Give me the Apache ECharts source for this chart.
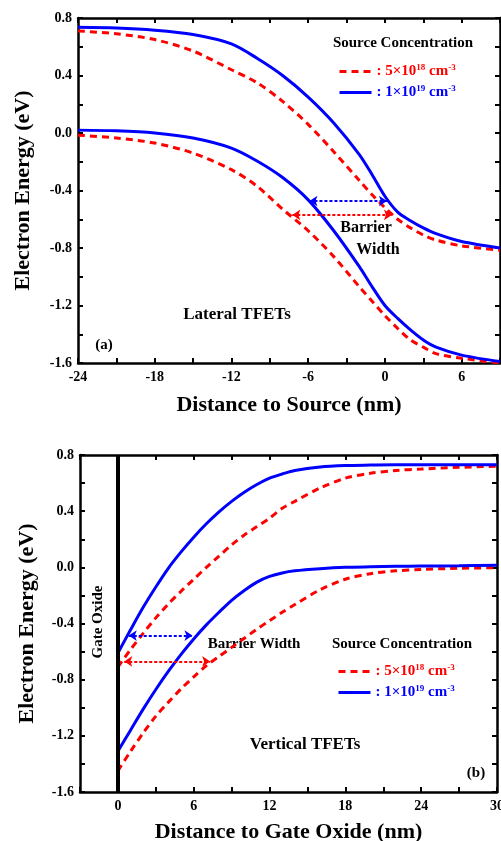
<!DOCTYPE html>
<html>
<head>
<meta charset="utf-8">
<script src="https://cdn.jsdelivr.net/npm/echarts@6/dist/echarts.min.js"></script>
<style>
html, body { margin: 0; padding: 0; background: #fff; }
#chart { width: 501px; height: 841px; }
</style>
</head>
<body>
<div id="chart"></div>
<script>
// (a) lateral TFETs, distance to source (nm)
const latX = [-24, -21, -18, -15, -12, -10, -8, -6, -4, -2, -1, 0, 1, 2, 3, 4, 6, 9];
const latCb18 = [0.71, 0.69, 0.65, 0.57, 0.44, 0.35, 0.22, 0.06, -0.13, -0.33, -0.43, -0.52, -0.60, -0.66, -0.71, -0.745, -0.785, -0.815];
const latVb18 = [-0.015, -0.035, -0.07, -0.14, -0.255, -0.37, -0.53, -0.68, -0.86, -1.07, -1.17, -1.27, -1.36, -1.44, -1.49, -1.535, -1.567, -1.60];
const latCb19 = [0.735, 0.73, 0.715, 0.685, 0.62, 0.52, 0.40, 0.25, 0.07, -0.15, -0.29, -0.44, -0.55, -0.61, -0.66, -0.70, -0.755, -0.80];
const latVb19 = [0.02, 0.015, 0.0, -0.035, -0.105, -0.195, -0.31, -0.465, -0.68, -0.93, -1.07, -1.20, -1.29, -1.37, -1.44, -1.49, -1.545, -1.59];

// (b) vertical TFETs, distance to gate oxide (nm)
const verX = [0, 1, 2, 3, 4, 5, 6, 7, 8, 9, 10, 11, 12, 13, 14, 16, 18, 20, 22, 24, 27, 30];
const verCb18 = [-0.71, -0.585, -0.47, -0.36, -0.26, -0.17, -0.085, 0.0, 0.08, 0.16, 0.23, 0.29, 0.35, 0.42, 0.47, 0.565, 0.635, 0.67, 0.69, 0.70, 0.712, 0.72];
const verVb18 = [-1.45, -1.31, -1.18, -1.06, -0.96, -0.865, -0.78, -0.70, -0.635, -0.57, -0.505, -0.44, -0.38, -0.32, -0.265, -0.16, -0.085, -0.045, -0.025, -0.015, -0.007, -0.002];
const verCb19 = [-0.61, -0.445, -0.285, -0.14, -0.005, 0.11, 0.215, 0.31, 0.395, 0.47, 0.535, 0.59, 0.635, 0.665, 0.69, 0.715, 0.725, 0.728, 0.73, 0.73, 0.73, 0.73];
const verVb19 = [-1.31, -1.16, -1.01, -0.87, -0.74, -0.62, -0.51, -0.41, -0.32, -0.235, -0.165, -0.105, -0.065, -0.04, -0.025, -0.01, 0.0, 0.004, 0.007, 0.009, 0.011, 0.014];

// barrier width arrows: [y, xStart, xEnd]
const latArrow19 = [-0.473, -5.9, 0.16];
const latArrow18 = [-0.57, -7.24, 0.55];
const verArrow19 = [-0.486, 0.86, 5.9];
const verArrow18 = [-0.67, 0.5, 7.3];

// ticks every 0.2 / 3 nm, labels on every second one
const yTicks = { min: -1.6, max: 0.8, interval: 0.2 };
const latTicks = { min: -24, max: 9, interval: 3 };
const verTicks = { min: -3, max: 30, interval: 3 };

const FONT = '"Liberation Serif", "Times New Roman", serif';
const RED = '#ff0000';
const BLUE = '#0000ff';
const N18 = '5e18';
const N19 = '1e19';

const pairs = (xs, ys) => xs.map((x, i) => [x, ys[i]]);

function xAxisOf(grid, ticks, pos, name, gap) {
    return {
        type: 'value', gridIndex: grid, position: pos,
        min: ticks.min, max: ticks.max, interval: ticks.interval,
        name: name, nameLocation: 'middle', nameGap: gap,
        nameTextStyle: { fontFamily: FONT, fontWeight: 'bold', fontSize: 22, color: '#000' },
        axisLine: { show: true, onZero: false, lineStyle: { color: '#000', width: 2.5 } },
        axisTick: { show: true, inside: true, length: 5, lineStyle: { color: '#000', width: 2 } },
        splitLine: { show: false },
        axisLabel: {
            show: pos === 'bottom', margin: 7, showMinLabel: true, showMaxLabel: true,
            fontFamily: FONT, fontWeight: 'bold', fontSize: 14, color: '#000',
            formatter: v => (v % 6 === 0 ? String(v) : '')
        }
    };
}

function yAxisOf(grid, pos, name, gap) {
    return {
        type: 'value', gridIndex: grid, position: pos,
        min: yTicks.min, max: yTicks.max, interval: yTicks.interval,
        name: name, nameLocation: 'middle', nameGap: gap,
        nameTextStyle: { fontFamily: FONT, fontWeight: 'bold', fontSize: 22, color: '#000' },
        axisLine: { show: true, onZero: false, lineStyle: { color: '#000', width: 2.5 } },
        axisTick: { show: true, inside: true, length: 5, lineStyle: { color: '#000', width: 2 } },
        splitLine: { show: false },
        axisLabel: {
            show: pos === 'left', margin: 6, showMinLabel: true, showMaxLabel: true,
            fontFamily: FONT, fontWeight: 'bold', fontSize: 14, color: '#000',
            formatter: v => (Math.round(v * 10) % 4 === 0 ? v.toFixed(1) : '')
        }
    };
}

function arrowLine(a, color) {
    return [
        { coord: [a[1], a[0]], lineStyle: { color: color, width: 2, type: [3, 2] } },
        { coord: [a[2], a[0]] }
    ];
}

function curve(name, xi, yi, data, color, dashed, extra) {
    return Object.assign({
        name: name, type: 'line', xAxisIndex: xi, yAxisIndex: yi,
        data: data, symbol: 'none', smooth: 0.3, silent: true,
        lineStyle: { color: color, width: 3, type: dashed ? [7, 5] : 'solid' },
        itemStyle: { color: color }
    }, extra || {});
}

const rich = {
    r: { color: RED, fontFamily: FONT, fontWeight: 'bold', fontSize: 15, lineHeight: 17 },
    rs: { color: RED, fontFamily: FONT, fontWeight: 'bold', fontSize: 9, verticalAlign: 'top' },
    b: { color: BLUE, fontFamily: FONT, fontWeight: 'bold', fontSize: 15, lineHeight: 17 },
    bs: { color: BLUE, fontFamily: FONT, fontWeight: 'bold', fontSize: 9, verticalAlign: 'top' }
};
const legendFmt = n => n === N18
    ? '{r|: 5×10}{rs|18}{r| cm}{rs|-3}'
    : '{b|: 1×10}{bs|19}{b| cm}{bs|-3}';

function legendAt(left, top) {
    return {
        orient: 'vertical', left: left, top: top, padding: 0,
        itemWidth: 32, itemHeight: 14, itemGap: 5, selectedMode: false,
        itemStyle: { opacity: 0 },
        lineStyle: { width: 3 },
        data: [N18, N19], formatter: legendFmt,
        textStyle: { rich: rich }
    };
}

function label(text, x, y, size, rot) {
    return {
        type: 'text', x: x, y: y, rotation: rot || 0, silent: true,
        style: {
            text: text, font: 'bold ' + size + 'px ' + FONT, fill: '#000',
            align: 'center', verticalAlign: 'middle',
            textAlign: 'center', textVerticalAlign: 'middle'
        }
    };
}

const option = {
    animation: false,
    backgroundColor: '#fff',
    grid: [
        { left: 78, top: 18, right: 1, bottom: 478, outerBoundsMode: 'none' },
        { left: 80, top: 455, right: 4, bottom: 49, outerBoundsMode: 'none' }
    ],
    xAxis: [
        xAxisOf(0, latTicks, 'bottom', 'Distance to Source (nm)', 31),
        xAxisOf(0, latTicks, 'top', '', 0),
        xAxisOf(1, verTicks, 'bottom', 'Distance to Gate Oxide (nm)', 29),
        xAxisOf(1, verTicks, 'top', '', 0)
    ],
    yAxis: [
        yAxisOf(0, 'left', 'Electron Energy (eV)', 44),
        yAxisOf(0, 'right', '', 0),
        yAxisOf(1, 'left', 'Electron Energy (eV)', 42),
        yAxisOf(1, 'right', '', 0)
    ],
    legend: [legendAt(338, 63), legendAt(337, 663)],
    graphic: [
        label('Source Concentration', 403, 43, 15),
        label('Barrier', 366, 228, 16),
        label('Width', 378, 250, 16),
        label('Lateral TFETs', 237, 315, 17),
        label('(a)', 104, 345, 15),
        label('Source Concentration', 402, 644, 15),
        label('Barrier Width', 254, 644, 15),
        label('Vertical TFETs', 305, 745, 17),
        label('(b)', 476, 773, 15),
        label('Gate Oxide', 98, 622, 15, Math.PI / 2)
    ],
    series: [
        curve(N18, 0, 0, pairs(latX, latCb18), RED, true),
        curve(N18, 0, 0, pairs(latX, latVb18), RED, true, {
            markLine: { silent: true, symbol: ['arrow', 'arrow'], symbolSize: 8, label: { show: false },
                data: [arrowLine(latArrow18, RED)] }
        }),
        curve(N19, 0, 0, pairs(latX, latCb19), BLUE, false),
        curve(N19, 0, 0, pairs(latX, latVb19), BLUE, false, {
            markLine: { silent: true, symbol: ['arrow', 'arrow'], symbolSize: 8, label: { show: false },
                data: [arrowLine(latArrow19, BLUE)] }
        }),
        curve(N18, 2, 2, pairs(verX, verCb18), RED, true, {
            markLine: { silent: true, symbol: 'none', label: { show: false },
                lineStyle: { color: '#000', width: 4, type: 'solid' },
                data: [{ xAxis: 0 }] }
        }),
        curve(N18, 2, 2, pairs(verX, verVb18), RED, true, {
            markLine: { silent: true, symbol: ['arrow', 'arrow'], symbolSize: 8, label: { show: false },
                data: [arrowLine(verArrow18, RED)] }
        }),
        curve(N19, 2, 2, pairs(verX, verCb19), BLUE, false),
        curve(N19, 2, 2, pairs(verX, verVb19), BLUE, false, {
            markLine: { silent: true, symbol: ['arrow', 'arrow'], symbolSize: 8, label: { show: false },
                data: [arrowLine(verArrow19, BLUE)] }
        })
    ]
};

const chart = echarts.init(document.getElementById('chart'), null, { renderer: 'canvas' });
chart.setOption(option);
</script>
</body>
</html>
